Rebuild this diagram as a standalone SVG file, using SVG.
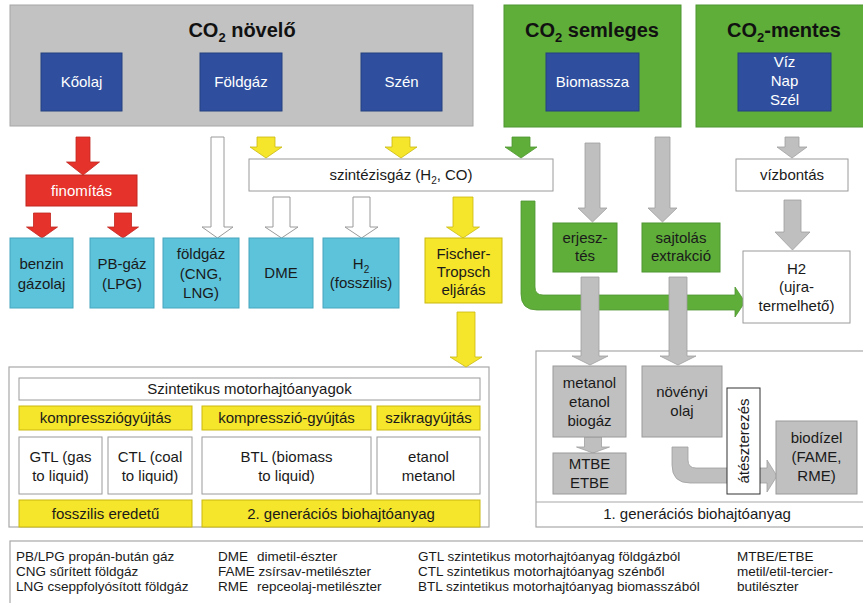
<svg xmlns="http://www.w3.org/2000/svg" width="863" height="603" viewBox="0 0 863 603">
<style>
text{font-family:"Liberation Sans",Arial,sans-serif;font-size:15px;fill:#1a1a1a;text-anchor:middle}
.ttl{font-size:20px;font-weight:bold;fill:#111}
.tw{fill:#fff}
.lg{font-size:13.5px;text-anchor:start}
.gb{fill:#c2c2c2;stroke:#a6a6a6;stroke-width:1}
.gn{fill:#5fae3a;stroke:#4f9630;stroke-width:1}
.bl{fill:#2f4f9e;stroke:#24407f;stroke-width:1}
.cy{fill:#5cc3da;stroke:#46a6bd;stroke-width:1}
.yl{fill:#f5e52b;stroke:#c9b90f;stroke-width:1}
.wb{fill:#fff;stroke:#9a9a9a;stroke-width:1}
.gr{fill:#c0c0c0;stroke:#9a9a9a;stroke-width:1}
.fr{fill:none;stroke:#a8a8a8;stroke-width:1.2}
.ar{fill:#e5322b;stroke:#c02620;stroke-width:0.8}
.ay{fill:#f5e52b;stroke:#c9b90f;stroke-width:0.8}
.aw{fill:#fff;stroke:#9a9a9a;stroke-width:1}
.ag{fill:#bfbfbf;stroke:#a0a0a0;stroke-width:0.8}
.agn{fill:#5fae3a;stroke:#4f9630;stroke-width:0.8}
</style>
<rect x="0" y="0" width="863" height="603" fill="#fff"/>

<g id="frames">
<rect class="fr" x="9" y="367" width="480" height="160"/>
<rect class="fr" x="536" y="351" width="335" height="176"/>
<line x1="536" y1="502" x2="863" y2="502" stroke="#a8a8a8" stroke-width="1.2"/>
<rect class="fr" x="10" y="541" width="860" height="70"/>
</g>

<g id="connectors">
<polygon class="ar" points="76,137 90,137 90,162 99.5,162 83,175 66.5,162 76,162"/>
<polygon class="ar" points="33.5,213 50.5,213 50.5,227 57.5,227 42,238 26.5,227 33.5,227"/>
<polygon class="ar" points="114.5,213 131.5,213 131.5,227 138.5,227 123,238 107.5,227 114.5,227"/>
<polygon class="aw" points="211,137 224,137 224,227 233,227 217.5,238 202,227 211,227"/>
<polygon class="ay" points="257,137 275,137 275,147 282,147 266,158 250,147 257,147"/>
<polygon class="ay" points="392,137 410,137 410,147 417,147 401,158 385,147 392,147"/>
<polygon class="agn" points="512,137 530,137 530,147 537,147 521,158 505,147 512,147"/>
<polygon class="aw" points="273,197 290,197 290,227 298,227 281.5,238 265,227 273,227"/>
<polygon class="aw" points="353,197 370,197 370,227 378,227 361.5,238 345,227 353,227"/>
<polygon class="ay" points="453,197 473,197 473,227 479.5,227 463,238 446.5,227 453,227"/>
<polygon class="ay" points="457,312 475,312 475,357 482,357 466,367 450,357 457,357"/>
<path class="agn" d="M521,201 H535 V287 Q535,295 543,295 H735 V287 L745,302 L735,317 V310 H537 Q521,310 521,294 Z"/>
<polygon class="ag" points="585,143 600,143 600,208 607,208 592.5,222 578,208 585,208"/>
<polygon class="ag" points="655,137 670,137 670,208 677,208 662.5,222 648,208 655,208"/>
<polygon class="ag" points="785,137 799,137 799,147 807,147 792,158 777,147 785,147"/>
<polygon class="ag" points="784,200 801,200 801,232 810,232 792.5,250 775,232 784,232"/>
<polygon class="ag" points="581,277 599,277 599,356 608,356 590,365 572,356 581,356"/>
<polygon class="ag" points="669,277 687,277 687,356 696,356 678,365 660,356 669,356"/>
<polygon class="ag" points="584.5,437 601.5,437 601.5,447 609.5,447 593,453 576.5,447 584.5,447"/>
<path class="ag" d="M672,447 H688 V460 Q688,468 696,468 H767 V460 L777,476 L767,492 V483 H690 Q672,483 672,465 Z"/>
</g>

<g id="co2-novelo">
<rect class="gb" x="10" y="5" width="463" height="121"/>
<text class="ttl" x="242" y="37">CO<tspan font-size="13" dy="5">2</tspan><tspan dy="-5"> növelő</tspan></text>
</g>
<g id="co2-semleges">
<rect class="gn" x="504" y="5" width="177" height="122"/>
<text class="ttl" x="592" y="37">CO<tspan font-size="13" dy="5">2</tspan><tspan dy="-5"> semleges</tspan></text>
</g>
<g id="co2-mentes">
<rect class="gn" x="696" y="5" width="175" height="122"/>
<text class="ttl" x="784" y="37">CO<tspan font-size="13" dy="5">2</tspan><tspan dy="-5">-mentes</tspan></text>
</g>
<g id="koolaj"><rect class="bl" x="41" y="53" width="81" height="58"/><text class="tw" x="81.5" y="87">Kőolaj</text></g>
<g id="foldgaz"><rect class="bl" x="200" y="53" width="82" height="58"/><text class="tw" x="241" y="87">Földgáz</text></g>
<g id="szen"><rect class="bl" x="361" y="53" width="81" height="58"/><text class="tw" x="401.5" y="87">Szén</text></g>
<g id="biomassza"><rect class="bl" x="546" y="53" width="93" height="58"/><text class="tw" x="592.5" y="87">Biomassza</text></g>
<g id="viz-nap-szel"><rect class="bl" x="738" y="53" width="93" height="58"/>
<text class="tw" x="784.5" y="67">Víz</text><text class="tw" x="784.5" y="86">Nap</text><text class="tw" x="784.5" y="105">Szél</text></g>

<g id="finomitas"><rect x="26" y="175" width="111" height="31" fill="#e5322b" stroke="#c02620"/><text class="tw" x="81.5" y="196">finomítás</text></g>
<g id="szintezisgaz"><rect class="wb" x="249" y="159" width="304" height="32"/>
<text x="401" y="180">szintézisgáz (H<tspan font-size="10" dy="4">2</tspan><tspan dy="-4">, CO)</tspan></text></g>
<g id="vizbontas"><rect class="wb" x="736" y="159" width="112" height="32"/><text x="792" y="180">vízbontás</text></g>

<g id="benzin"><rect class="cy" x="10" y="238" width="63" height="70"/><text x="41.5" y="269">benzin</text><text x="41.5" y="289">gázolaj</text></g>
<g id="pb-gaz"><rect class="cy" x="90" y="238" width="64" height="70"/><text x="122" y="269">PB-gáz</text><text x="122" y="289">(LPG)</text></g>
<g id="foldgaz-cng"><rect class="cy" x="163" y="238" width="76" height="70"/><text x="201" y="259">földgáz</text><text x="201" y="279">(CNG,</text><text x="201" y="298">LNG)</text></g>
<g id="dme"><rect class="cy" x="249" y="238" width="64" height="70"/><text x="281" y="278">DME</text></g>
<g id="h2-fosszilis"><rect class="cy" x="323" y="238" width="76" height="70"/>
<text x="361" y="269">H<tspan font-size="10" dy="4">2</tspan></text><text x="361" y="288">(fosszilis)</text></g>
<g id="fischer-tropsch"><rect class="yl" x="425" y="238" width="77" height="65"/>
<text x="463.5" y="259">Fischer-</text><text x="463.5" y="277">Tropsch</text><text x="463.5" y="295">eljárás</text></g>

<g id="erjesztes"><rect class="gn" x="553" y="223" width="64" height="49"/><text x="585" y="243">erjesz-</text><text x="585" y="261">tés</text></g>
<g id="sajtolas"><rect class="gn" x="642" y="223" width="78" height="49"/><text x="681" y="243">sajtolás</text><text x="681" y="261">extrakció</text></g>
<g id="h2-ujra"><rect class="wb" x="743" y="251" width="107" height="72"/>
<text x="796.5" y="274">H2</text><text x="796.5" y="292">(ujra-</text><text x="796.5" y="311">termelhető)</text></g>

<g id="szintetikus">
<rect class="wb" x="19" y="378" width="461" height="22"/><text x="249.5" y="394">Szintetikus motorhajtóanyagok</text>
<rect class="yl" x="19" y="406" width="173" height="24"/><text x="105.5" y="423">kompressziógyújtás</text>
<rect class="yl" x="202" y="406" width="169" height="24"/><text x="286.5" y="423">kompresszió-gyújtás</text>
<rect class="yl" x="377" y="406" width="103" height="24"/><text x="428.5" y="423">szikragyújtás</text>
<rect class="wb" x="19" y="437" width="83" height="57"/><text x="60.5" y="462">GTL (gas</text><text x="60.5" y="481">to liquid)</text>
<rect class="wb" x="108" y="437" width="84" height="57"/><text x="150" y="462">CTL (coal</text><text x="150" y="481">to liquid)</text>
<rect class="wb" x="202" y="437" width="169" height="57"/><text x="286.5" y="462">BTL (biomass</text><text x="286.5" y="481">to liquid)</text>
<rect class="wb" x="377" y="437" width="103" height="57"/><text x="428.5" y="462">etanol</text><text x="428.5" y="481">metanol</text>
<rect class="yl" x="19" y="500" width="173" height="27"/><text x="105.5" y="519">fosszilis eredetű</text>
<rect class="yl" x="202" y="500" width="278" height="27"/><text x="341" y="519">2. generációs biohajtóanyag</text>
</g>

<g id="metanol"><rect class="gr" x="553" y="366" width="73" height="71"/>
<text x="589.5" y="388">metanol</text><text x="589.5" y="407">etanol</text><text x="589.5" y="426">biogáz</text></g>
<g id="mtbe"><rect class="gr" x="553" y="453" width="73" height="41"/><text x="589.5" y="469">MTBE</text><text x="589.5" y="488">ETBE</text></g>
<g id="novenyi-olaj"><rect class="gr" x="642" y="366" width="80" height="71"/><text x="682" y="397">növényi</text><text x="682" y="416">olaj</text></g>
<g id="ateszterezes"><rect x="727" y="388" width="33" height="106" fill="#fff" stroke="#333" stroke-width="1"/>
<text transform="translate(748.5,441) rotate(-90)">átészterezés</text></g>
<g id="biodizel"><rect class="gr" x="776" y="421" width="81" height="73"/>
<text x="816.5" y="443">biodízel</text><text x="816.5" y="462">(FAME,</text><text x="816.5" y="481">RME)</text></g>
<g id="elso-generacio"><text x="697" y="519">1. generációs biohajtóanyag</text></g>

<g id="legend">
<text class="lg" x="16" y="561">PB/LPG  propán-bután gáz</text>
<text class="lg" x="16" y="576">CNG sűrített földgáz</text>
<text class="lg" x="16" y="591">LNG cseppfolyósított földgáz</text>
<text class="lg" x="218" y="561">DME</text><text class="lg" x="257" y="561">dimetil-észter</text>
<text class="lg" x="218" y="576">FAME zsírsav-metilészter</text>
<text class="lg" x="218" y="591">RME</text><text class="lg" x="257" y="591">repceolaj-metilészter</text>
<text class="lg" x="418" y="561">GTL szintetikus motorhajtóanyag földgázból</text>
<text class="lg" x="418" y="576">CTL szintetikus motorhajtóanyag szénből</text>
<text class="lg" x="418" y="591">BTL szintetikus motorhajtóanyag biomasszából</text>
<text class="lg" x="737" y="561">MTBE/ETBE</text>
<text class="lg" x="737" y="576">metil/etil-tercier-</text>
<text class="lg" x="737" y="591">butilészter</text>
</g>
</svg>
